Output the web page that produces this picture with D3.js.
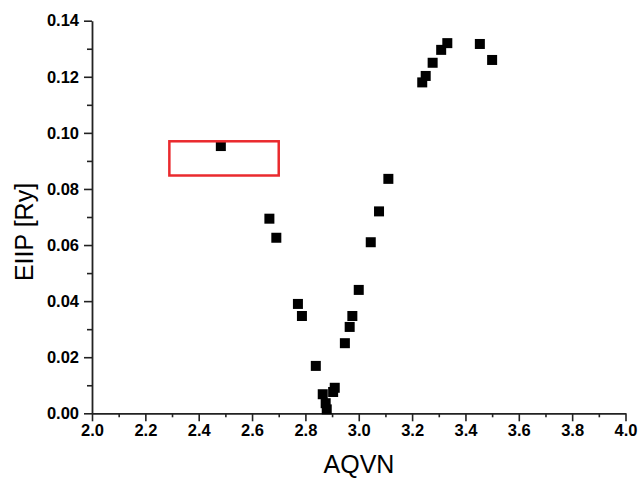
<!DOCTYPE html>
<html>
<head>
<meta charset="utf-8">
<title>EIIP vs AQVN</title>
<script src="https://d3js.org/d3.v7.min.js"></script>
<style>
  body { margin: 0; background: #fff; }
  svg text { font-family: "Liberation Sans", Arial, sans-serif; }
</style>
</head>
<body>
<script>
// data
var aqvn = [2.483, 2.665, 2.691, 2.772, 2.787, 2.839, 2.865, 2.876, 2.880, 2.904, 2.910,
            2.948, 2.966, 2.976, 3.000, 3.045, 3.076, 3.111, 3.238, 3.251, 3.277, 3.309,
            3.332, 3.454, 3.500];
var eiip = [0.0953, 0.0694, 0.0626, 0.0390, 0.0347, 0.0169, 0.0068, 0.0036, 0.0014, 0.0076, 0.0091,
            0.0250, 0.0308, 0.0347, 0.0440, 0.0610, 0.0720, 0.0836, 0.1180, 0.1203, 0.1250, 0.1296,
            0.1320, 0.1317, 0.1260];
var xTicks = [2.0, 2.2, 2.4, 2.6, 2.8, 3.0, 3.2, 3.4, 3.6, 3.8, 4.0];
var yTicks = [0.00, 0.02, 0.04, 0.06, 0.08, 0.10, 0.12, 0.14];
// highlighted region (x from, x to, y from, y to)
var boxX = [2.29, 2.70];
var boxY = [0.0848, 0.0970];

var W = 638, H = 479;
var svg = d3.select("body").append("svg")
    .attr("width", W).attr("height", H);

var x = d3.scaleLinear().domain([2, 4]).range([92, 625.5]);
var y = d3.scaleLinear().domain([0, 0.14]).range([413.3, 20.7]);

// minor ticks
var xMinor = d3.range(2.1, 4.0, 0.2);
var yMinor = d3.range(0.01, 0.14, 0.02);

svg.append("g")
    .attr("transform", "translate(0," + y(0) + ")")
    .call(d3.axisBottom(x).tickValues(xMinor).tickFormat("").tickSize(4).tickSizeOuter(0))
    .call(function(g){ g.select(".domain").remove(); });
svg.append("g")
    .attr("transform", "translate(" + x(2) + ",0)")
    .call(d3.axisLeft(y).tickValues(yMinor).tickFormat("").tickSize(5).tickSizeOuter(0))
    .call(function(g){ g.select(".domain").remove(); });

var xAxis = svg.append("g")
    .attr("transform", "translate(0," + y(0) + ")")
    .call(d3.axisBottom(x).tickValues(xTicks).tickFormat(d3.format(".1f"))
        .tickSize(8).tickSizeOuter(0).tickPadding(3));
var yAxis = svg.append("g")
    .attr("transform", "translate(" + x(2) + ",0)")
    .call(d3.axisLeft(y).tickValues(yTicks).tickFormat(d3.format(".2f"))
        .tickSize(8).tickSizeOuter(0).tickPadding(5));

svg.selectAll(".tick line").attr("stroke", "#222").attr("stroke-width", 1.6);
svg.selectAll(".domain").attr("stroke", "#222").attr("stroke-width", 1.8);
svg.selectAll(".tick text")
    .attr("fill", "#000")
    .style("font-size", "16.5px")
    .style("font-weight", "bold")
    .style("font-family", "'Liberation Sans', Arial, sans-serif");

// axis titles
svg.append("text")
    .attr("x", 359).attr("y", 473)
    .attr("text-anchor", "middle")
    .style("font-size", "25px")
    .text("AQVN");
svg.append("text")
    .attr("transform", "translate(33,232) rotate(-90)")
    .attr("text-anchor", "middle")
    .style("font-size", "25px")
    .text("EIIP [Ry]");

// points
var pts = aqvn.map(function(d, i){ return [d, eiip[i]]; });
var s = 10;
svg.selectAll("rect.pt")
    .data(pts)
    .enter()
    .append("rect")
    .attr("class", "pt")
    .attr("x", function(d){ return x(d[0]) - s/2; })
    .attr("y", function(d){ return y(d[1]) - s/2; })
    .attr("width", s)
    .attr("height", s)
    .attr("fill", "#000");

// red box
svg.append("rect")
    .attr("x", x(boxX[0]))
    .attr("y", y(boxY[1]))
    .attr("width", x(boxX[1]) - x(boxX[0]))
    .attr("height", y(boxY[0]) - y(boxY[1]))
    .attr("fill", "none")
    .attr("stroke", "#ea2a2e")
    .attr("stroke-width", 2.5);
</script>
</body>
</html>
